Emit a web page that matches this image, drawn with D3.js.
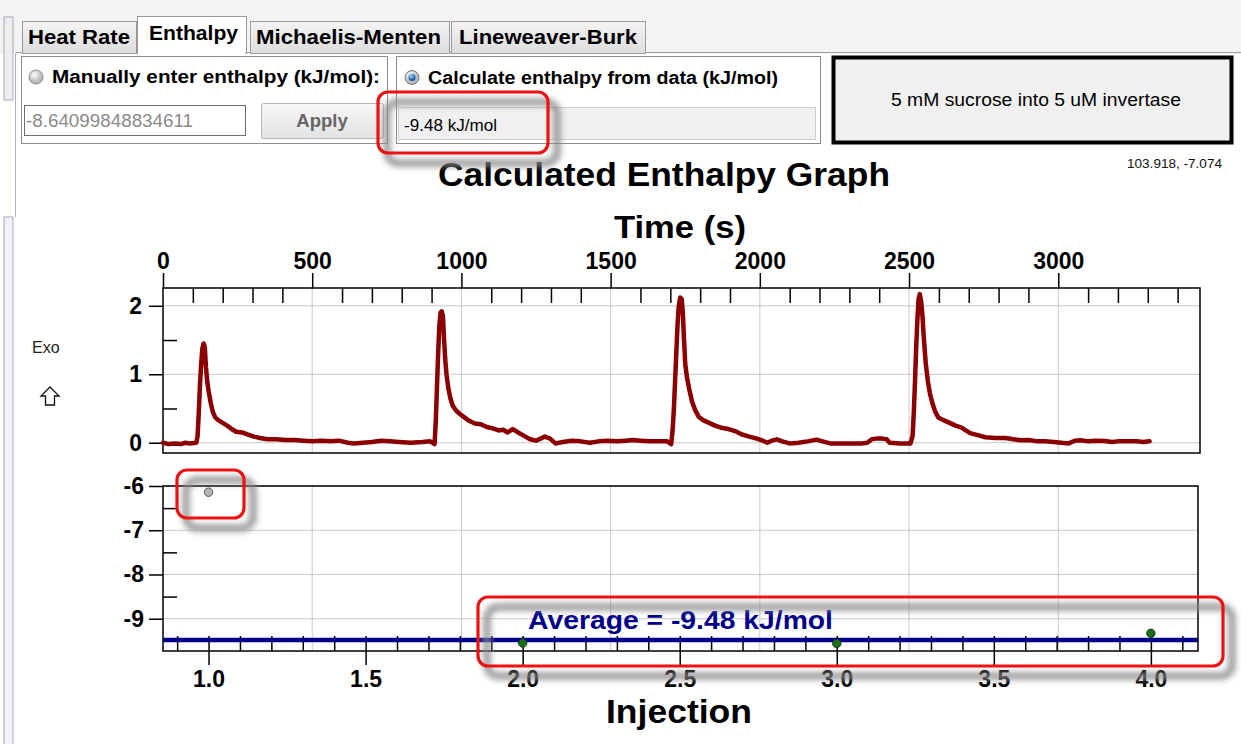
<!DOCTYPE html>
<html><head><meta charset="utf-8">
<script src="https://cdn.jsdelivr.net/npm/d3@7"></script>
<style>
html,body{margin:0;padding:0;background:#fff;overflow:hidden}
svg{display:block}
text{font-family:"Liberation Sans",Arial,sans-serif}
</style></head><body>
<script>
// ---------------- data ----------------
const timeS = [0,20,40,60,75,90,112,116,120,124,128,132,136,140,144,148,153,160,167,175,185,200,215,230,245,265,285,305,325,350,380,410,440,470,500,530,560,590,620,640,670,700,730,760,790,830,870,895,910,914,918,922,926,930,934,938,942,946,950,956,963,971,982,995,1010,1026,1045,1065,1085,1105,1125,1140,1155,1172,1190,1210,1230,1250,1265,1280,1297,1315,1340,1370,1400,1430,1460,1490,1520,1550,1575,1600,1630,1660,1690,1703,1708,1712,1716,1720,1724,1728,1733,1738,1742,1746,1750,1756,1764,1773,1783,1795,1810,1830,1850,1870,1895,1917,1940,1965,1990,2010,2025,2040,2057,2075,2100,2130,2160,2190,2210,2236,2270,2300,2340,2360,2375,2390,2410,2425,2435,2470,2505,2512,2516,2520,2524,2528,2532,2536,2541,2545,2550,2556,2563,2570,2578,2588,2598,2615,2636,2656,2676,2690,2705,2730,2756,2790,2822,2850,2876,2900,2930,2955,2985,3010,3035,3055,3075,3100,3125,3155,3180,3200,3230,3262,3285,3306];
const heatRate = [0.0,-0.02,-0.01,-0.02,0.0,-0.01,0.0,0.1,0.45,0.85,1.15,1.38,1.45,1.4,1.1,0.9,0.75,0.58,0.45,0.37,0.33,0.29,0.25,0.2,0.16,0.15,0.12,0.09,0.07,0.05,0.05,0.04,0.04,0.03,0.02,0.03,0.02,0.03,0.0,-0.01,0.0,0.01,0.03,0.02,0.01,0.0,0.01,0.02,-0.02,0.3,0.8,1.3,1.7,1.9,1.92,1.85,1.5,1.2,1.0,0.8,0.65,0.54,0.47,0.42,0.37,0.32,0.28,0.27,0.23,0.21,0.18,0.19,0.15,0.2,0.15,0.1,0.05,0.03,0.06,0.09,0.06,-0.01,0.01,0.03,0.02,0.0,0.02,0.03,0.02,0.03,0.04,0.03,0.02,0.02,0.02,-0.02,0.2,0.5,0.9,1.3,1.7,1.98,2.12,2.1,1.9,1.5,1.15,0.95,0.77,0.6,0.48,0.38,0.33,0.29,0.25,0.22,0.2,0.17,0.12,0.09,0.06,0.03,0.0,0.03,0.05,0.02,-0.01,0.0,0.02,0.045,0.02,-0.01,-0.01,-0.01,-0.01,0.0,0.05,0.06,0.06,0.05,0.0,-0.01,-0.01,0.1,0.45,0.9,1.4,1.8,2.1,2.17,2.05,1.85,1.5,1.16,0.9,0.72,0.58,0.45,0.37,0.33,0.29,0.25,0.22,0.18,0.14,0.11,0.08,0.07,0.07,0.05,0.035,0.04,0.02,0.02,0.01,0.0,-0.01,0.03,0.035,0.02,0.03,0.025,0.01,0.02,0.02,0.02,0.01,0.02];
const injection = [1, 2, 3, 4];
const enthalpy = [-6.14, -9.55, -9.56, -9.33];
const averageEnthalpy = -9.48;
const manualEnthalpy = "-8.64099848834611";
const timeTicks = [0, 500, 1000, 1500, 2000, 2500, 3000];
const heatTicks = [0, 1, 2];
const injTicks = [1.0, 1.5, 2.0, 2.5, 3.0, 3.5, 4.0];
const enthTicks = [-6, -7, -8, -9];
const tabLabels = ["Heat Rate", "Enthalpy", "Michaelis-Menten", "Lineweaver-Burk"];

// ---------------- setup ----------------
const W = 1241, H = 744;
const svg = d3.select("body").append("svg").attr("width", W).attr("height", H);
const defs = svg.append("defs");
defs.append("filter").attr("id", "blur").attr("x", "-20%").attr("y", "-40%").attr("width", "140%").attr("height", "180%")
  .append("feGaussianBlur").attr("stdDeviation", 3);
const rg = defs.append("radialGradient").attr("id", "radioOff").attr("cx", "40%").attr("cy", "35%");
rg.append("stop").attr("offset", "0%").attr("stop-color", "#ffffff");
rg.append("stop").attr("offset", "100%").attr("stop-color", "#b8b8b8");
const rg2 = defs.append("radialGradient").attr("id", "radioOn").attr("cx", "40%").attr("cy", "35%");
rg2.append("stop").attr("offset", "0%").attr("stop-color", "#9fd3ff");
rg2.append("stop").attr("offset", "100%").attr("stop-color", "#1b5fa8");
const bg = defs.append("linearGradient").attr("id", "btn").attr("x1", 0).attr("y1", 0).attr("x2", 0).attr("y2", 1);
bg.append("stop").attr("offset", "0%").attr("stop-color", "#f8f8f8");
bg.append("stop").attr("offset", "100%").attr("stop-color", "#e2e2e2");
const tg = defs.append("linearGradient").attr("id", "tab").attr("x1", 0).attr("y1", 0).attr("x2", 0).attr("y2", 1);
tg.append("stop").attr("offset", "0%").attr("stop-color", "#f4f4f4");
tg.append("stop").attr("offset", "100%").attr("stop-color", "#dcdcdc");

// ---------------- window chrome ----------------
svg.append("rect").attr("x", 0).attr("y", 0).attr("width", W).attr("height", 54).attr("fill", "#f3f3f3");
svg.append("rect").attr("x", 4).attr("y", 17).attr("width", 9).attr("height", 83).attr("fill", "#eeeeee").attr("stroke", "#a8a8b8");
svg.append("line").attr("x1", 15.5).attr("x2", 15.5).attr("y1", 53).attr("y2", 217).attr("stroke", "#b0b0c0");
svg.append("rect").attr("x", 4).attr("y", 217).attr("width", 9).attr("height", 540).attr("fill", "#f2f2f2").attr("stroke", "#a8a8c0");
svg.append("line").attr("x1", 16).attr("x2", W).attr("y1", 52.5).attr("y2", 52.5).attr("stroke", "#a0a0a0");

const tabs = [
  {x: 22, w: 114, sel: false, tx: 28, tw: 102},
  {x: 137, w: 109, sel: true, tx: 149, tw: 89},
  {x: 250, w: 199, sel: false, tx: 256, tw: 185},
  {x: 451, w: 194, sel: false, tx: 459, tw: 178}
];
tabs.forEach((t, i) => {
  const y0 = t.sel ? 16 : 21;
  svg.append("rect").attr("x", t.x + 0.5).attr("y", y0 + 0.5).attr("width", t.w).attr("height", 53 - y0)
    .attr("fill", t.sel ? "#ffffff" : "url(#tab)").attr("stroke", "#9a9a9a");
  svg.append("text").attr("x", t.tx).attr("y", t.sel ? 40 : 44)
    .attr("font-weight", "bold").attr("font-size", 20.5).attr("fill", "#000")
    .attr("textLength", t.tw).attr("lengthAdjust", "spacingAndGlyphs").text(tabLabels[i]);
});
svg.append("rect").attr("x", 138).attr("y", 50).attr("width", 107).attr("height", 6).attr("fill", "#fff");

// panel 1
svg.append("rect").attr("x", 21.5).attr("y", 56.5).attr("width", 366).attr("height", 87).attr("fill", "#fff").attr("stroke", "#8c8c8c");
svg.append("circle").attr("cx", 36).attr("cy", 77).attr("r", 7).attr("fill", "url(#radioOff)").attr("stroke", "#8a8a8a");
svg.append("text").attr("x", 52).attr("y", 83).attr("font-weight", "bold").attr("font-size", 18)
  .attr("textLength", 328).attr("lengthAdjust", "spacingAndGlyphs").text("Manually enter enthalpy (kJ/mol):");
svg.append("rect").attr("x", 24.5).attr("y", 105.5).attr("width", 221).attr("height", 30).attr("fill", "#fff").attr("stroke", "#6e6e6e");
svg.append("text").attr("x", 26).attr("y", 127).attr("font-size", 17.5).attr("fill", "#8a8a8a")
  .attr("textLength", 167).attr("lengthAdjust", "spacingAndGlyphs").text(manualEnthalpy);
svg.append("rect").attr("x", 261.5).attr("y", 103.5).attr("width", 122).attr("height", 35).attr("rx", 2).attr("fill", "url(#btn)").attr("stroke", "#b5b5b5");
svg.append("text").attr("x", 322).attr("y", 127).attr("text-anchor", "middle").attr("font-weight", "bold").attr("font-size", 18.5).attr("fill", "#666").text("Apply");

// panel 2
svg.append("rect").attr("x", 396.5).attr("y", 56.5).attr("width", 424).attr("height", 87).attr("fill", "#fff").attr("stroke", "#8c8c8c");
svg.append("circle").attr("cx", 412).attr("cy", 77.5).attr("r", 7).attr("fill", "url(#radioOff)").attr("stroke", "#7a7a7a");
svg.append("circle").attr("cx", 412).attr("cy", 77.5).attr("r", 3.6).attr("fill", "url(#radioOn)");
svg.append("text").attr("x", 428).attr("y", 84).attr("font-weight", "bold").attr("font-size", 18)
  .attr("textLength", 350).attr("lengthAdjust", "spacingAndGlyphs").text("Calculate enthalpy from data (kJ/mol)");
svg.append("rect").attr("x", 398.5).attr("y", 107.5).attr("width", 417).attr("height", 32).attr("fill", "#f0f0f0").attr("stroke", "#cfcfcf");
svg.append("text").attr("x", 404).attr("y", 131).attr("font-size", 17).attr("fill", "#000")
  .attr("textLength", 93).attr("lengthAdjust", "spacingAndGlyphs").text(d3.format(".2f")(averageEnthalpy).replace("\u2212", "-") + " kJ/mol");

// panel 3
svg.append("rect").attr("x", 833.5).attr("y", 57.5).attr("width", 398).attr("height", 85).attr("fill", "#f0f0f0").attr("stroke", "#000").attr("stroke-width", 4);
svg.append("text").attr("x", 1036).attr("y", 106).attr("text-anchor", "middle").attr("font-size", 17.5)
  .attr("textLength", 290).attr("lengthAdjust", "spacingAndGlyphs").text("5 mM sucrose into 5 uM invertase");

svg.append("text").attr("x", 1222).attr("y", 168).attr("text-anchor", "end").attr("font-size", 13).attr("fill", "#111")
  .attr("textLength", 95).attr("lengthAdjust", "spacingAndGlyphs").text("103.918, -7.074");

// titles
svg.append("text").attr("x", 664).attr("y", 186).attr("text-anchor", "middle").attr("font-weight", "bold").attr("font-size", 33)
  .attr("textLength", 452).attr("lengthAdjust", "spacingAndGlyphs").text("Calculated Enthalpy Graph");
svg.append("text").attr("x", 680).attr("y", 238).attr("text-anchor", "middle").attr("font-weight", "bold").attr("font-size", 32)
  .attr("textLength", 132).attr("lengthAdjust", "spacingAndGlyphs").text("Time (s)");
svg.append("text").attr("x", 679).attr("y", 723).attr("text-anchor", "middle").attr("font-weight", "bold").attr("font-size", 33)
  .attr("textLength", 146).attr("lengthAdjust", "spacingAndGlyphs").text("Injection");

svg.append("text").attr("x", 32).attr("y", 353).attr("font-size", 16).attr("fill", "#222").text("Exo");
const arrowPts = [[50, 387], [59, 396], [54.5, 396], [54.5, 405], [45.5, 405], [45.5, 396], [41, 396]];
svg.append("path").attr("d", d3.line()(arrowPts) + "Z").attr("fill", "#fff").attr("stroke", "#111").attr("stroke-width", 1.3).attr("stroke-linejoin", "miter");

// ---------------- scales ----------------
const L = 163, R = 1200;
const xT = d3.scaleLinear().domain([0, 3475]).range([L, R]);
const yT = d3.scaleLinear().domain([-0.15, 2.26]).range([453, 288]);
const xI = d3.scaleLinear().domain([0.855, 4.15]).range([L, 1198]);
const yE = d3.scaleLinear().domain([-9.73, -6]).range([651, 486]);

const grid = "#c8c8c8";
const tickFont = 23;
const fmtMinus = f => d => f(d).replace("\u2212", "-");
// ---------- top chart ----------
const gTop = svg.append("g");
gTop.selectAll(".gv").data(timeTicks.filter(d => d > 0)).join("line")
  .attr("x1", d => xT(d)).attr("x2", d => xT(d)).attr("y1", yT.range()[1]).attr("y2", yT.range()[0]).attr("stroke", grid);
gTop.selectAll(".gh").data(heatTicks).join("line")
  .attr("x1", L).attr("x2", R).attr("y1", d => yT(d)).attr("y2", d => yT(d)).attr("stroke", grid);
gTop.append("rect").attr("x", L).attr("y", 288).attr("width", R - L).attr("height", 165).attr("fill", "none").attr("stroke", "#000").attr("stroke-width", 1.5);

const xTopAxis = d3.axisTop(xT).tickValues(timeTicks).tickSize(15).tickPadding(4).tickFormat(d3.format("d"));
const gxt = gTop.append("g").attr("transform", "translate(0,288)").call(xTopAxis);
gxt.select(".domain").remove();
gxt.selectAll("line").attr("stroke", "#000").attr("stroke-width", 1.5);
gxt.selectAll("text").attr("font-size", tickFont).attr("font-weight", "bold").attr("fill", "#000").attr("font-family", "Liberation Sans, Arial");
const minorT = d3.range(100, 3475, 100).filter(d => d % 500 !== 0);
const gxtm = gTop.append("g").attr("transform", "translate(0,288)").call(d3.axisBottom(xT).tickValues(minorT).tickSize(15).tickFormat(""));
gxtm.select(".domain").remove();
gxtm.selectAll("line").attr("stroke", "#000").attr("stroke-width", 1.5);

const gyt = gTop.append("g").attr("transform", `translate(${L},0)`).call(d3.axisLeft(yT).tickValues(heatTicks).tickSize(14).tickPadding(7).tickFormat(d3.format("d")));
gyt.select(".domain").remove();
gyt.selectAll("line").attr("stroke", "#000").attr("stroke-width", 1.5);
gyt.selectAll("text").attr("font-size", tickFont).attr("font-weight", "bold").attr("fill", "#000").attr("font-family", "Liberation Sans, Arial");
const gytm = gTop.append("g").attr("transform", `translate(${L},0)`).call(d3.axisRight(yT).tickValues([0.5, 1.5]).tickSize(14).tickFormat(""));
gytm.select(".domain").remove();
gytm.selectAll("line").attr("stroke", "#000").attr("stroke-width", 1.5);

const heatData = timeS.map((t, i) => ({t, v: heatRate[i]}));
gTop.append("path").datum(heatData).attr("fill", "none").attr("stroke", "#8b0000").attr("stroke-width", 4.5)
  .attr("stroke-linejoin", "round").attr("stroke-linecap", "round")
  .attr("d", d3.line().x(d => xT(d.t)).y(d => yT(d.v)));

// ---------- bottom chart ----------
const gBot = svg.append("g");
gBot.selectAll(".gv").data(timeTicks.filter(d => d > 0)).join("line")
  .attr("x1", d => xT(d)).attr("x2", d => xT(d)).attr("y1", 486).attr("y2", 651).attr("stroke", grid);
gBot.selectAll(".gh").data(enthTicks).join("line")
  .attr("x1", L).attr("x2", 1198).attr("y1", d => yE(d)).attr("y2", d => yE(d)).attr("stroke", grid);
gBot.append("rect").attr("x", L).attr("y", 486).attr("width", 1198 - L).attr("height", 165).attr("fill", "none").attr("stroke", "#000").attr("stroke-width", 1.5);

const gxb = gBot.append("g").attr("transform", "translate(0,651)").call(d3.axisBottom(xI).tickValues(injTicks).tickSize(14).tickPadding(6).tickFormat(d3.format(".1f")));
gxb.select(".domain").remove();
gxb.selectAll("line").attr("stroke", "#000").attr("stroke-width", 1.5).attr("y1", -15);
gxb.selectAll("text").attr("font-size", tickFont).attr("font-weight", "bold").attr("fill", "#000").attr("font-family", "Liberation Sans, Arial");
const minorI = d3.range(9, 42).map(d => d / 10).filter(d => Math.round(d * 10) % 5 !== 0);
const gxbm = gBot.append("g").attr("transform", "translate(0,651)").call(d3.axisTop(xI).tickValues(minorI).tickSize(15).tickFormat(""));
gxbm.select(".domain").remove();
gxbm.selectAll("line").attr("stroke", "#000").attr("stroke-width", 1.5);

const gyb = gBot.append("g").attr("transform", `translate(${L},0)`).call(d3.axisLeft(yE).tickValues(enthTicks).tickSize(14).tickPadding(5).tickFormat(fmtMinus(d3.format("d"))));
gyb.select(".domain").remove();
gyb.selectAll("line").attr("stroke", "#000").attr("stroke-width", 1.5);
gyb.selectAll("text").attr("font-size", tickFont).attr("font-weight", "bold").attr("fill", "#000").attr("font-family", "Liberation Sans, Arial");
const gybm = gBot.append("g").attr("transform", `translate(${L},0)`).call(d3.axisRight(yE).tickValues([-6.5, -7.5, -8.5]).tickSize(14).tickFormat(""));
gybm.select(".domain").remove();
gybm.selectAll("line").attr("stroke", "#000").attr("stroke-width", 1.5);

gBot.append("line").attr("x1", L).attr("x2", 1198).attr("y1", yE(averageEnthalpy)).attr("y2", yE(averageEnthalpy))
  .attr("stroke", "#00008b").attr("stroke-width", 4.5);
gBot.selectAll(".pt").data(injection.map((d, i) => ({x: d, y: enthalpy[i], i}))).join("circle")
  .attr("cx", d => xI(d.x)).attr("cy", d => yE(d.y)).attr("r", 4.2)
  .attr("fill", d => d.i === 0 ? "#b4b8b4" : "#1e6b1e").attr("stroke", d => d.i === 0 ? "#555" : "#0d3d0d").attr("stroke-width", 1);
gBot.append("text").attr("x", 528).attr("y", 629).attr("font-weight", "bold").attr("font-size", 25).attr("fill", "#00008b")
  .attr("textLength", 305).attr("lengthAdjust", "spacingAndGlyphs")
  .text("Average = " + d3.format(".2f")(averageEnthalpy).replace("\u2212", "-") + " kJ/mol");

// ---------- annotation boxes ----------
const boxes = [
  {x: 378, y: 92, w: 170, h: 61},
  {x: 177, y: 470, w: 67, h: 48},
  {x: 478, y: 597, w: 745, h: 69}
];
boxes.forEach(b => {
  svg.append("rect").attr("x", b.x + 9).attr("y", b.y + 10).attr("width", b.w).attr("height", b.h).attr("rx", 11)
    .attr("fill", "none").attr("stroke", "#8a8a8a").attr("stroke-width", 7).attr("filter", "url(#blur)").attr("opacity", 0.9);
  svg.append("rect").attr("x", b.x).attr("y", b.y).attr("width", b.w).attr("height", b.h).attr("rx", 10)
    .attr("fill", "none").attr("stroke", "#ee1111").attr("stroke-width", 3.2);
});
</script></body></html>
